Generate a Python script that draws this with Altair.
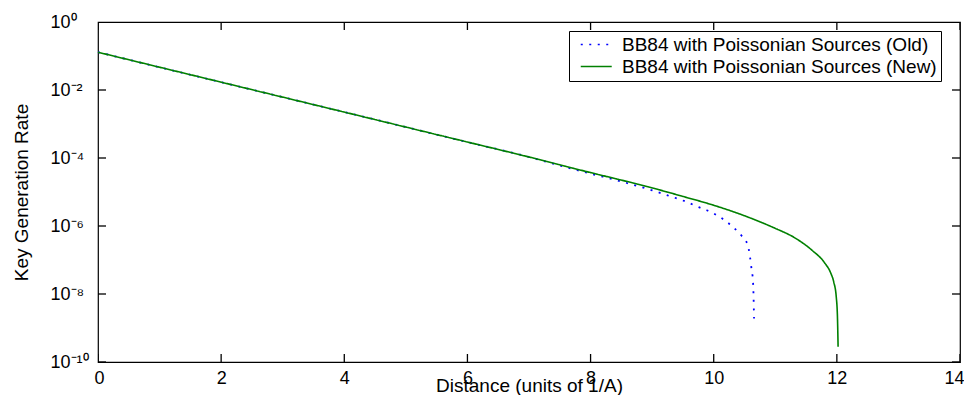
import json
import altair as alt
import pandas as pd

# ---- data ----
series_names = ["BB84 with Poissonian Sources (Old)", "BB84 with Poissonian Sources (New)"]

old_x = [0, 1, 2, 3, 4, 5, 6, 7, 7.5, 8, 8.5, 9, 9.25, 9.5, 9.75, 10, 10.25,
         10.45, 10.53, 10.57, 10.61, 10.64, 10.655]
old_y = [1.29e-1, 4.68e-2, 1.70e-2, 6.17e-3, 2.24e-3, 8.13e-4, 2.95e-4, 1.07e-4,
         6.03e-5, 3.47e-5, 2.04e-5, 1.12e-5, 7.94e-6, 5.62e-6, 3.63e-6, 2.34e-6,
         1.17e-6, 5.25e-7, 3.47e-7, 2.04e-7, 6.31e-8, 2.04e-8, 1.91e-9]

new_x = [0, 1, 2, 3, 4, 5, 6, 7, 7.5, 8, 8.5, 9, 9.5, 10, 10.5, 11, 11.3, 11.6,
         11.8, 11.9, 11.95, 11.99, 12.01, 12.02]
new_y = [1.29e-1, 4.68e-2, 1.70e-2, 6.17e-3, 2.24e-3, 8.13e-4, 2.95e-4, 1.07e-4,
         6.31e-5, 3.72e-5, 2.24e-5, 1.32e-5, 7.41e-6, 4.07e-6, 2.00e-6, 8.51e-7,
         4.68e-7, 1.91e-7, 8.32e-8, 4.17e-8, 2.24e-8, 8.32e-9, 2.00e-9, 2.82e-10]

x_ticks = [0, 2, 4, 6, 8, 10, 12, 14]
y_ticks = [1e-10, 1e-8, 1e-6, 1e-4, 1e-2, 1]
y_tick_labels = ["10\u207b\u00b9\u2070", "10\u207b\u2078", "10\u207b\u2076",
                 "10\u207b\u2074", "10\u207b\u00b2", "10\u2070"]

x_title = "Distance (units of 1/A)"
y_title = "Key Generation Rate"

# ---- tables ----
df_old = pd.DataFrame({"distance": old_x, "rate": old_y, "series": series_names[0]})
df_new = pd.DataFrame({"distance": new_x, "rate": new_y, "series": series_names[1]})
df_xt = pd.DataFrame({"t": x_ticks})
df_yt = pd.DataFrame({"t": y_ticks})

FONT = "Liberation Sans"
W, H = 862, 340
TICK = 8

xs = alt.Scale(domain=[0, 14], nice=False, zero=False)
ys = alt.Scale(type="log", domain=[1e-10, 1], nice=False)

legend = alt.Legend(
    title=None, orient="none", legendX=471, legendY=9,
    strokeColor="black", fillColor="white", padding=4,
    labelFont=FONT, labelFontSize=19, labelColor="black", labelLimit=500,
    labelExpr="datum.label + '    '",
    symbolType="M-0.226,0L3.774,0", symbolSize=240, symbolStrokeWidth=1.6,
    labelOffset=30, rowPadding=2,
)
color = alt.Color(
    "series:N",
    scale=alt.Scale(domain=series_names, range=["#0000ff", "#008000"]),
    legend=legend,
)
dash = alt.StrokeDash(
    "series:N",
    scale=alt.Scale(domain=series_names, range=[[2, 6.5], [1, 0]]),
    legend=legend,
)

x_main = alt.Axis(
    values=x_ticks, tickSize=0, domain=False, grid=False,
    labelFlush=True, labelFlushOffset=4, labelOverlap=False, labelFont=FONT,
    labelFontSize=18, labelColor="black", labelPadding=7,
    title=x_title, titleFont=FONT,
    titleFontSize=19, titleFontWeight="normal", titleColor="black", titleY=29,
    titleBaseline="alphabetic",
)
y_main = alt.Axis(
    values=y_ticks, tickSize=0, domain=False, grid=False, labelFlush=False,
    labelOverlap=False, labelFont=FONT, labelFontSize=18, labelColor="black",
    labelPadding=48, labelAlign="left",
    labelExpr=json.dumps(y_tick_labels, ensure_ascii=False)
    + "[round(log(datum.value)/LN10/2)+5]",
    title=y_title, titleFont=FONT, titleFontSize=19, titleFontWeight="normal",
    titleColor="black", titleX=-71, titleY=170, titleAngle=-90,
    titleAlign="center", titleBaseline="alphabetic",
)

old_layer = alt.Chart(df_old).mark_line(strokeWidth=1.8, interpolate="monotone",
                                        strokeCap="butt").encode(
    x=alt.X("distance:Q", scale=xs, axis=x_main),
    y=alt.Y("rate:Q", scale=ys, axis=y_main),
    color=color, strokeDash=dash,
)
new_layer = alt.Chart(df_new).mark_line(strokeWidth=1.6, interpolate="monotone").encode(
    x=alt.X("distance:Q", scale=xs, axis=x_main),
    y=alt.Y("rate:Q", scale=ys, axis=y_main),
    color=color, strokeDash=dash,
)
lines = alt.layer(old_layer, new_layer)

# inward tick marks on all four sides (clipped to the plot area)
tk = dict(color="black", thickness=1.3, size=2 * TICK, clip=True, opacity=1)
ticks_bottom = alt.Chart(df_xt).mark_tick(orient="vertical", **tk).encode(
    x=alt.X("t:Q", scale=xs, axis=None), y=alt.value(H))
ticks_top = alt.Chart(df_xt).mark_tick(orient="vertical", **tk).encode(
    x=alt.X("t:Q", scale=xs, axis=None), y=alt.value(0))
ticks_left = alt.Chart(df_yt).mark_tick(orient="horizontal", **tk).encode(
    y=alt.Y("t:Q", scale=ys, axis=None), x=alt.value(0))
ticks_right = alt.Chart(df_yt).mark_tick(orient="horizontal", **tk).encode(
    y=alt.Y("t:Q", scale=ys, axis=None), x=alt.value(W))
ticks = alt.layer(ticks_bottom, ticks_top, ticks_left, ticks_right)

chart = (
    alt.layer(lines, ticks)
    .resolve_axis(x="independent", y="independent")
    .properties(
        width=W, height=H,
        autosize=alt.AutoSizeParams(type="none"),
        padding={"left": 90, "top": 14, "right": 4, "bottom": 33},
        background="white",
    )
    .configure_view(stroke="black", strokeWidth=1.2)
)

chart.save("out.html", embed_options={"renderer": "svg", "actions": False})
